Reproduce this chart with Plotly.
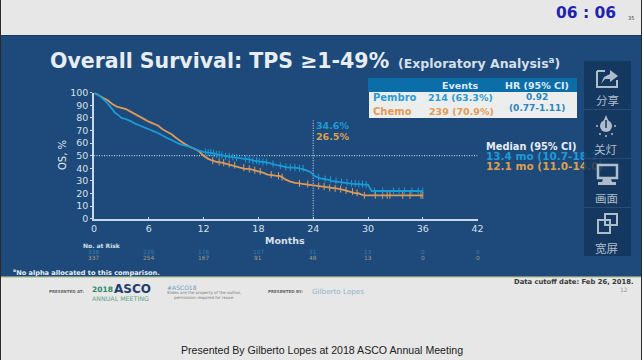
import plotly.graph_objects as go

W, H = 642, 360

# ---- data ----
pembro_t = [0, 0.3, 0.6, 1, 1.3, 1.6, 2, 2.3, 2.7, 3, 3.5, 4, 4.5, 5, 5.5, 6, 6.5, 7, 7.5, 8, 8.5, 9, 9.5, 10, 10.5, 11, 11.5, 12,
            12.5, 13, 13.5, 14, 14.5, 15, 15.5, 16, 16.5, 17, 17.5, 18, 18.5, 19, 19.5, 20, 20.5, 21, 21.5, 22, 22.5, 23, 23.4, 23.8, 24,
            24.4, 24.8, 25.2, 25.6, 26, 26.5, 27, 27.5, 28, 28.5, 29, 29.5, 30, 30.2, 30.4, 36]
pembro_s = [100, 99, 97.5, 95, 93, 90.5, 87, 84, 82, 80, 79, 77.5, 75.5, 74, 72.5, 71, 69.5, 68, 66, 64, 62.5, 60.5, 59, 58, 57, 55.5, 54, 53,
            52.5, 52, 51, 50.5, 49.5, 49, 48.5, 48, 47.5, 47, 46, 45.5, 45, 44.5, 43.5, 42.5, 42, 41, 40.5, 40.5, 40, 39, 38, 36.5, 34.6,
            33, 32, 31.5, 31, 30, 29.5, 29, 28.5, 28, 27.5, 27.5, 27, 27, 24.5, 22, 22]
chemo_t = [0, 0.5, 1, 1.5, 2, 2.5, 3, 3.5, 4, 4.5, 5, 5.5, 6, 6.5, 7, 7.5, 8, 8.5, 9, 9.5, 10, 10.5, 11, 11.5, 12,
           12.5, 13, 13.5, 14, 14.5, 15, 15.5, 16, 16.5, 17, 17.5, 18, 18.5, 19, 19.5, 20, 20.3, 20.6, 21, 21.5, 22, 22.5, 23, 24,
           24.5, 25, 25.5, 26, 26.5, 27, 27.5, 28, 28.5, 29, 29.5, 36]
chemo_s = [100, 98, 96, 94, 91, 89, 88, 87, 85, 83, 81, 79, 77, 75.5, 74, 71, 69, 67, 64, 61.5, 59, 57, 55.5, 53.5, 50,
           47.5, 46, 45, 44.5, 43.5, 42.5, 41.5, 40.5, 39.5, 39.5, 38.5, 37.5, 36.5, 35, 34.5, 34, 34, 33, 31, 29.5, 28.5, 28, 27.5, 26.5,
           26, 25.5, 25, 24.5, 24, 23.5, 22.5, 21.5, 20.5, 20, 18.5, 18.5]

pembro_cens_t = [12.2, 12.5, 12.8, 13.1, 13.4, 13.7, 14, 14.4, 14.8, 15.2, 15.6, 16.6, 17, 17.4, 17.8, 18.1, 18.5, 18.9, 19.6, 20.4, 21,
                 21.5, 22, 22.5, 22.9, 24.6, 25.3, 25.9, 26.5, 27.1, 27.7, 28.2, 28.6, 29, 29.4, 29.8, 30.7, 31.6, 32.8, 33.4, 34, 34.8, 35.5, 36]
pembro_cens_s = [53, 52.5, 52.5, 52, 51, 51, 50.5, 49.5, 49.5, 49, 48.5, 47.5, 47, 46, 46, 45.5, 45, 45, 43.5, 42, 41,
                 40.5, 40.5, 40, 40, 33, 31.5, 31, 30, 29, 29, 28, 28, 27.5, 27.5, 27, 22, 22, 22, 22, 22, 22, 22, 22]
chemo_cens_t = [13, 13.7, 14.2, 14.8, 15.4, 16.4, 17, 17.6, 18.2, 19.4, 20.2, 20.6, 22.5, 23.4, 24.6, 25.2, 25.8, 26.4, 27, 27.6, 28.3,
                28.8, 29.6, 30.8, 31.6, 32.1, 32.4, 33.8, 34.6, 35.8, 36]
chemo_cens_s = [46, 45, 44.5, 43.5, 42.5, 40.5, 39.5, 38.5, 37.5, 35, 34, 33, 28, 27.5, 26, 25.5, 24.5, 24, 23.5, 22.5, 21.5,
                20.5, 18.5, 18.5, 18.5, 18.5, 18.5, 18.5, 18.5, 18.5, 18.5]

x_ticks = [0, 6, 12, 18, 24, 30, 36, 42]
y_ticks = [0, 10, 20, 30, 40, 50, 60, 70, 80, 90, 100]
risk_pembro = [338, 239, 176, 107, 31, 13, 0, 0]
risk_chemo = [337, 254, 167, 91, 48, 13, 0, 0]
median_y = [50, 50]
median_x = [0, 42]
landmark_x = [24, 24]
landmark_y = [0, 78]

table_headers = ["Events", "HR (95% CI)"]
table_rows = [("Pembro", "214 (63.3%)"), ("Chemo", "239 (70.9%)")]
table_hr = ["0.92", "(0.77-1.11)"]
median_labels = ["13.4 mo (10.7-18.2)", "12.1 mo (11.0-14.0)"]
side_labels = ["分享", "关灯", "画面", "宽屏"]

# ---- palette ----
PAGE = "#e7e7e7"
PANEL = "#1d4a7b"
SIDE = "rgba(20,52,90,0.82)"
BLUE = "#1b9ad6"
ORANGE = "#d99a5b"
AXIS = "#c9d8e6"
ICON = "#aebdcc"
FONT = "DejaVu Sans"


def fx(p):
    return p / W


def fy(p):
    return 1 - p / H


def rect(x0, y0, x1, y1, fill, layer="below"):
    return dict(type="rect", xref="paper", yref="paper", x0=fx(x0), x1=fx(x1), y0=fy(y1), y1=fy(y0),
                fillcolor=fill, line_width=0, layer=layer)


def dot(cx, cy, r, fill=ICON):
    return dict(type="circle", xref="paper", yref="paper", x0=fx(cx - r), x1=fx(cx + r), y0=fy(cy + r), y1=fy(cy - r),
                fillcolor=fill, line_width=0, layer="above")


def path(pts, fill=None, line=None, w=1.5, closed=True):
    d = "M " + " L ".join(f"{fx(a):.5f},{fy(b):.5f}" for a, b in pts) + (" Z" if closed else "")
    return dict(type="path", xref="paper", yref="paper", path=d, fillcolor=fill or "rgba(0,0,0,0)",
                line=dict(color=line or "rgba(0,0,0,0)", width=w), layer="above")


def txt(x, y, s, size, color, anchor="left", bold=False, font=FONT, **kw):
    return dict(x=fx(x), y=fy(y), xref="paper", yref="paper", text=f"<b>{s}</b>" if bold else s, showarrow=False,
                xanchor=anchor, yanchor="middle", font=dict(size=size, color=color, family=font),
                borderpad=0, borderwidth=0, **kw)


fig = go.Figure()
fig.add_trace(go.Scatter(x=median_x, y=median_y, mode="lines", line=dict(color="#dfe8f0", width=1, dash="1px 1.5px")))
fig.add_trace(go.Scatter(x=landmark_x, y=landmark_y, mode="lines", line=dict(color="#dfe8f0", width=1, dash="1px 1.5px")))
fig.add_trace(go.Scatter(x=chemo_t, y=chemo_s, mode="lines", line=dict(color=ORANGE, width=1.8, simplify=False)))
fig.add_trace(go.Scatter(x=pembro_t, y=pembro_s, mode="lines", line=dict(color=BLUE, width=1.8, simplify=False)))
fig.add_trace(go.Scatter(x=chemo_cens_t, y=chemo_cens_s, mode="markers",
                         marker=dict(symbol="line-ns", size=5, line=dict(color=ORANGE, width=1))))
fig.add_trace(go.Scatter(x=pembro_cens_t, y=pembro_cens_s, mode="markers",
                         marker=dict(symbol="line-ns", size=5, line=dict(color=BLUE, width=1))))
# median lines run under the translucent side bar, so they are trace text on a page-wide hidden axis
fig.add_trace(go.Scatter(x=[486], y=[49], xaxis="x2", mode="text", text=[f"<b>{median_labels[0]}</b>"],
                         textposition="middle right", cliponaxis=False,
                         textfont=dict(size=10.5, color="#1f9ad6", family=FONT)))
fig.add_trace(go.Scatter(x=[486], y=[40.6], xaxis="x2", mode="text", text=[f"<b>{median_labels[1]}</b>"],
                         textposition="middle right", cliponaxis=False,
                         textfont=dict(size=10.5, color="#d9a050", family=FONT)))

shapes = [
    rect(0, 0, W, H, PAGE),
    rect(0, 35, W, 277, PANEL),
    rect(0, 276.5, W, 278, "#c8d4a8"),
    rect(0, 35, W, 36, "#16395f"),
    rect(0, 0, 1, H, "#2a2a2a"),
    rect(641, 0, W, H, "#2a2a2a"),
    rect(368, 78, 577, 92, "#0b6ea8"),
    rect(369, 92, 577, 118, "#eceeee"),
    # side bar
    rect(584, 61, 631, 256, SIDE, layer="above"),
    rect(584, 109, 631, 109.6, "#3d5f85", layer="above"),
    rect(584, 158, 631, 158.6, "#3d5f85", layer="above"),
    rect(584, 207, 631, 207.6, "#3d5f85", layer="above"),
    # share icon
    path([(597, 71), (597, 87), (617, 87), (617, 80)], line=ICON, w=2, closed=False),
    path([(597, 71), (605, 71)], line=ICON, w=2, closed=False),
    path([(601, 84), (604, 77), (610, 74), (610, 70), (618, 76), (610, 82), (610, 79), (605, 79)], fill=ICON),
    # lamp icon
    dot(606, 126, 6),
    path([(603.5, 121), (606, 115), (608.5, 121)], fill=ICON),
    path([(606, 120), (606, 128)], line="#16395f", w=1.5, closed=False),
    dot(597, 126, 1), dot(615, 126, 1), dot(600, 134, 1), dot(606, 136, 1), dot(612, 134, 1),
    # monitor icon
    path([(598, 165), (617, 165), (617, 178), (598, 178)], line=ICON, w=2.5),
    path([(603, 179), (611, 179), (612, 182), (616, 182), (616, 185), (598, 185), (598, 182), (602, 182)], fill=ICON),
    # wide-screen icon
    path([(598, 220), (610, 220), (610, 233), (598, 233)], line=ICON, w=2),
    path([(605, 214), (617, 214), (617, 225), (605, 225)], line=ICON, w=2),
]

ann = [
    txt(556, 13, "06 : 06", 15.5, "#2222b0", bold=True),
    txt(628, 17.5, "35", 5, "#444444"),
    txt(50, 61, "Overall Survival: TPS ≥1-49%", 20.5, "#e8edf2", bold=True),
    txt(398, 63, "(Exploratory Analysis<sup>a</sup>)", 12.5, "#d6dfe8", bold=True),
    txt(460, 85, table_headers[0], 9.5, "#dfeaf3", anchor="center", bold=True),
    txt(537, 85, table_headers[1], 9.5, "#dfeaf3", anchor="center", bold=True),
    txt(373, 98, table_rows[0][0], 10, "#2b9bd0", bold=True),
    txt(373, 111, table_rows[1][0], 10, "#e39a55", bold=True),
    txt(460, 98, table_rows[0][1], 9.5, "#2b9bd0", anchor="center", bold=True),
    txt(461, 111, table_rows[1][1], 9.5, "#e39a55", anchor="center", bold=True),
    txt(537, 97.5, table_hr[0], 9, "#2b86bf", anchor="center", bold=True),
    txt(537, 108, table_hr[1], 9, "#2b86bf", anchor="center", bold=True),
    txt(316, 125, "34.6%", 9.5, "#1f9ad6", bold=True),
    txt(316, 136, "26.5%", 9.5, "#d9a050", bold=True),
    txt(486, 146, "Median (95% CI)", 9.8, "#e6edf3", bold=True),
    txt(285, 241, "Months", 9.5, "#d7e0e8", anchor="center", bold=True),
    txt(83, 245.5, "No. at Risk", 6, "#d7e0e8", bold=True),
    txt(13, 272.5, "<sup>a</sup>No alpha allocated to this comparison.", 6.6, "#e6edf3", bold=True),
    txt(49, 291, "PRESENTED AT:", 4, "#666666", bold=True),
    txt(92, 289, "2018", 7.5, "#2a8a68", bold=True),
    txt(114, 288.5, "ASCO", 12, "#1d3f6e", bold=True),
    txt(92, 298, "ANNUAL MEETING", 6.3, "#5fa58a"),
    txt(167, 287, "#ASCO18", 6, "#6b9cc0"),
    txt(167, 295, "Slides are the property of the author,<br>permission required for reuse.", 4, "#777777"),
    txt(268, 291, "PRESENTED BY:", 4, "#666666", bold=True),
    txt(312, 291, "Gilberto Lopes", 7.2, "#8fb5cc"),
    txt(634, 282, "Data cutoff date: Feb 26, 2018.", 6.8, "#3a3a3a", anchor="right", bold=True),
    txt(628, 289.5, "12", 6, "#8a9aa5", anchor="right"),
    txt(322, 350, "Presented By Gilberto Lopes at 2018 ASCO Annual Meeting", 10.6, "#222222", anchor="center",
        font="Liberation Sans"),
    txt(62, 155, "OS, %", 10, "#e6edf3", anchor="center", textangle=-90),
    txt(607, 100, side_labels[0], 11.5, ICON, anchor="center", font="Noto Sans CJK SC"),
    txt(606, 148.5, side_labels[1], 11.5, ICON, anchor="center", font="Noto Sans CJK SC"),
    txt(606.5, 198, side_labels[2], 11.5, ICON, anchor="center", font="Noto Sans CJK SC"),
    txt(606.5, 247.5, side_labels[3], 11.5, ICON, anchor="center", font="Noto Sans CJK SC"),
]

# number at risk, placed through the x axis
for t, a, b in zip(x_ticks, risk_pembro, risk_chemo):
    ann.append(dict(x=t, y=fy(251.5), xref="x", yref="paper", text=str(a), showarrow=False, yanchor="middle",
                    font=dict(size=5.8, color="#2f7db5", family=FONT)))
    ann.append(dict(x=t, y=fy(258.2), xref="x", yref="paper", text=str(b), showarrow=False, yanchor="middle",
                    font=dict(size=5.8, color="#a89a80", family=FONT)))

fig.update_layout(
    width=W, height=H, autosize=False,
    margin=dict(l=0, r=0, t=0, b=0, autoexpand=False),
    paper_bgcolor=PAGE, plot_bgcolor="rgba(0,0,0,0)",
    showlegend=False,
    shapes=shapes, annotations=ann,
    font=dict(family=FONT),
    xaxis=dict(domain=[fx(94), fx(477.6)], range=[0, 42], tickvals=x_ticks, ticks="inside", ticklen=2, tickwidth=1,
               tickcolor=AXIS, showline=True, linecolor=AXIS, linewidth=1.5, showgrid=False, zeroline=False,
               tickfont=dict(size=9.5, color="#d7e0e8", family=FONT)),
    xaxis2=dict(domain=[0, 1], range=[0, W], anchor="y", visible=False),
    yaxis=dict(domain=[fy(218.7), fy(92.7)], range=[0, 100], tickvals=y_ticks, ticks="outside", ticklen=2, tickwidth=1,
               tickcolor=AXIS, showline=True, linecolor=AXIS, linewidth=1.5, showgrid=False, zeroline=False,
               tickfont=dict(size=9.5, color="#d7e0e8", family=FONT)),
)

fig.write_html("out.html", post_script="document.body.style.margin='0';", config={"displayModeBar": False})
